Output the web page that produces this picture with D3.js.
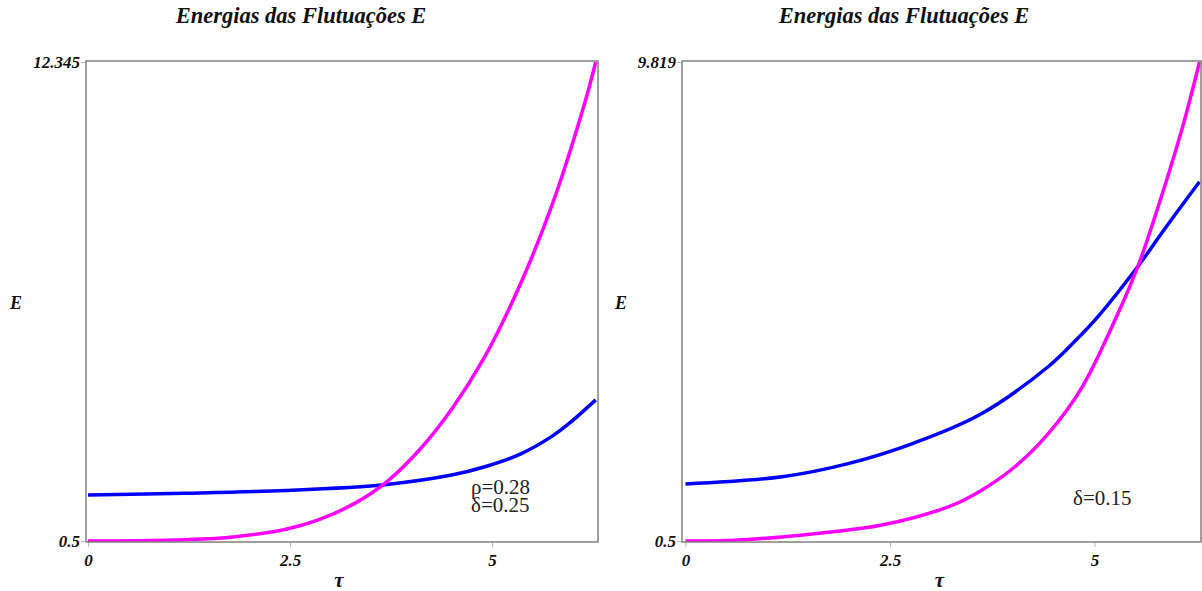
<!DOCTYPE html>
<html>
<head>
<meta charset="utf-8">
<script src="https://cdn.jsdelivr.net/npm/d3@7/dist/d3.min.js"></script>
<style>
  html, body { margin: 0; padding: 0; background: #fff; }
  svg { display: block; }
</style>
</head>
<body>
<svg id="chart" width="1202" height="591"></svg>
<script>
// Fluctuation energies E(τ) for two parameter sets, τ from 0 to 2π.
const titleText = "Energias das Flutuações E";
const xTicks = [0, 2.5, 5];
const tauMax = 6.283;

// Left panel (ρ=0.28, δ=0.25)
const leftYTicks = [0.5, 12.345];
const leftTau1 = [0, 0.6, 1.2, 1.8, 2.45, 2.85, 3.3, 3.7, 4.1, 4.5, 4.9, 5.35, 5.75, 6.15, 6.283];
const leftMagenta = [0.5, 0.505, 0.53, 0.6, 0.79, 1.02, 1.43, 1.97, 2.75, 3.76, 5.02, 6.85, 8.85, 11.35, 12.345];
const leftTau2 = [0, 1.2, 2.45, 3.7, 4.5, 4.9, 5.35, 5.75, 5.95, 6.283];
const leftBlue = [1.64, 1.68, 1.75, 1.9, 2.13, 2.33, 2.65, 3.1, 3.4, 3.99];
const leftNotes = ["ρ=0.28", "δ=0.25"];

// Right panel (δ=0.15)
const rightYTicks = [0.5, 9.819];
const rightTau1 = [0, 0.6, 1.18, 1.8, 2.4, 3.22, 3.6, 4.03, 4.44, 4.85, 5.25, 5.52, 5.66, 6.07, 6.283];
const rightMagenta = [0.5, 0.515, 0.58, 0.68, 0.81, 1.17, 1.47, 1.95, 2.6, 3.5, 4.8, 5.8, 6.43, 8.52, 9.819];
const rightTau2 = [0, 1.18, 2.0, 2.8, 3.6, 4.44, 4.75, 5.05, 5.52, 5.87, 6.283];
const rightBlue = [1.61, 1.75, 2.01, 2.41, 2.96, 3.9, 4.37, 4.88, 5.82, 6.6, 7.49];
const rightNotes = ["δ=0.15"];

const svg = d3.select("#chart");
const serif = "'Liberation Serif', 'Times New Roman', serif";

function boldItalic(sel, size) {
  return sel.attr("font-family", serif).attr("font-weight", "bold")
    .attr("font-style", "italic").attr("font-size", size).attr("fill", "#111");
}

function panel(opt) {
  const g = svg.append("g");
  const x = d3.scaleLinear().domain([0, tauMax]).range([opt.x0, opt.x1]);
  const y = d3.scaleLinear().domain([opt.yTicks[0], opt.yTicks[1]]).range([541, 62]);

  // title
  boldItalic(g.append("text"), 22.5)
    .attr("x", opt.titleX).attr("y", 23)
    .attr("text-anchor", "middle")
    .text(titleText);

  // y axis ticks and labels
  const yAxis = d3.axisLeft(y).tickValues(opt.yTicks).tickSize(5).tickPadding(1)
    .tickFormat(d => String(d));
  const ya = g.append("g").attr("transform", `translate(${opt.fx0},0)`).call(yAxis);
  ya.select(".domain").remove();
  ya.selectAll(".tick line").attr("stroke", "#bbb");
  boldItalic(ya.selectAll(".tick text"), 17);

  // x axis ticks and labels
  const xAxis = d3.axisBottom(x).tickValues(xTicks).tickSize(5).tickPadding(7)
    .tickFormat(d => String(d));
  const xa = g.append("g").attr("transform", `translate(0,${opt.fy1})`).call(xAxis);
  xa.select(".domain").remove();
  xa.selectAll(".tick line").attr("stroke", "#bbb");
  boldItalic(xa.selectAll(".tick text"), 17);

  // axis labels
  boldItalic(g.append("text"), 18).attr("x", opt.eX).attr("y", 309).text("E");
  boldItalic(g.append("text"), 21).attr("x", (opt.x0 + opt.x1) / 2 - 3).attr("y", 587)
    .attr("text-anchor", "middle").text("τ");

  // curves
  const clipId = "clip" + opt.id;
  svg.append("clipPath").attr("id", clipId).append("rect")
    .attr("x", opt.fx0).attr("y", 58).attr("width", opt.fx1 - opt.fx0).attr("height", opt.fy1 - 58);
  const line = d3.line().x(d => x(d[0])).y(d => y(d[1])).curve(d3.curveCatmullRom.alpha(0.5));
  const cg = g.append("g").attr("clip-path", `url(#${clipId})`);
  cg.append("path").datum(d3.zip(opt.tau2, opt.blue))
    .attr("d", line).attr("fill", "none").attr("stroke", "#0000ff").attr("stroke-width", 3.5);
  cg.append("path").datum(d3.zip(opt.tau1, opt.magenta))
    .attr("d", line).attr("fill", "none").attr("stroke", "#ff00ff").attr("stroke-width", 3.5);

  // parameter notes
  opt.notes.forEach((t, i) => {
    g.append("text").attr("x", opt.noteX).attr("y", opt.noteY + i * 18)
      .attr("font-family", serif)
      .attr("font-size", 21).attr("fill", "#222").text(t);
  });

  // frame
  g.append("rect")
    .attr("x", opt.fx0).attr("y", 61).attr("width", opt.fx1 - opt.fx0).attr("height", opt.fy1 - 61)
    .attr("fill", "none").attr("stroke", "#808080").attr("stroke-width", 1.5);
}

panel({
  id: "L", x0: 88, x1: 595.7, fx0: 86, fx1: 598, fy1: 542,
  yTicks: leftYTicks, tau1: leftTau1, magenta: leftMagenta, tau2: leftTau2, blue: leftBlue,
  notes: leftNotes, noteX: 471, noteY: 494, titleX: 301, eX: 10
});
panel({
  id: "R", x0: 685.5, x1: 1199.5, fx0: 682, fx1: 1201, fy1: 542,
  yTicks: rightYTicks, tau1: rightTau1, magenta: rightMagenta, tau2: rightTau2, blue: rightBlue,
  notes: rightNotes, noteX: 1073, noteY: 505, titleX: 904, eX: 615
});
</script>
</body>
</html>
